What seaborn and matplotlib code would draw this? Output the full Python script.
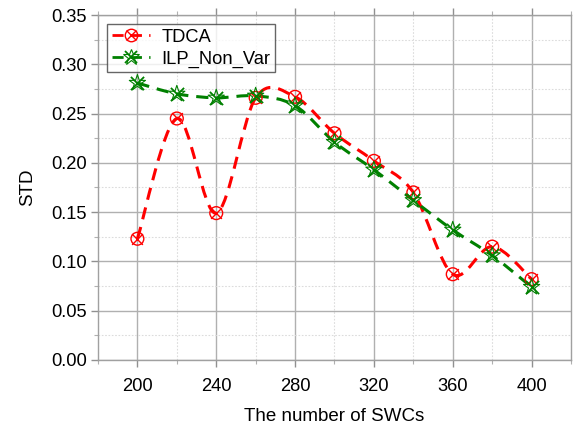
import numpy as np
import pandas as pd
import matplotlib
matplotlib.use("Agg")
import matplotlib.pyplot as plt
import seaborn as sns
from matplotlib.path import Path
from matplotlib.patches import PathPatch
from matplotlib.lines import Line2D
from matplotlib.ticker import MultipleLocator

swcs = [200, 220, 240, 260, 280, 300, 320, 340, 360, 380, 400]
tdca = [0.123, 0.245, 0.149, 0.266, 0.267, 0.230, 0.202, 0.170, 0.087, 0.115, 0.082]
ilp_non_var = [0.281, 0.270, 0.266, 0.268, 0.258, 0.221, 0.193, 0.162, 0.132, 0.106, 0.074]
series_names = ["TDCA", "ILP_Non_Var"]
series_colors = ["#ff0000", "#008000"]

sns.set_style("white")
plt.rcParams["font.family"] = ["Liberation Sans", "DejaVu Sans"]
plt.rcParams["text.color"] = "black"
plt.rcParams["axes.labelcolor"] = "black"
plt.rcParams["xtick.labelcolor"] = "black"
plt.rcParams["ytick.labelcolor"] = "black"

fig = plt.figure(figsize=(5.74, 4.25), dpi=100)
ax = fig.add_axes([0.1707, 0.153, 0.8241, 0.8117])


def smooth_patch(xs, ys, color):
    pts = np.column_stack([xs, ys]).astype(float)
    n = len(pts)
    verts = [pts[0]]
    codes = [Path.MOVETO]
    for i in range(n - 1):
        p0 = pts[i - 1] if i > 0 else pts[i]
        p1 = pts[i]
        p2 = pts[i + 1]
        p3 = pts[i + 2] if i + 2 < n else pts[i + 1]
        c1 = p1 + (p2 - p0) / 6.0
        c2 = p2 - (p3 - p1) / 6.0
        verts += [c1, c2, p2]
        codes += [Path.CURVE4] * 3
    return PathPatch(Path(verts, codes), facecolor="none", edgecolor=color,
                     lw=2.2, linestyle=(0, (4, 2.6)), transform=ax.transData, zorder=3)


df = pd.DataFrame({"x": swcs * 2, "y": tdca + ilp_non_var,
                   "s": [series_names[0]] * len(swcs) + [series_names[1]] * len(swcs)})

ax.add_patch(smooth_patch(swcs, tdca, series_colors[0]))
ax.add_patch(smooth_patch(swcs, ilp_non_var, series_colors[1]))

d1 = df[df.s == series_names[0]]
d2 = df[df.s == series_names[1]]
sns.scatterplot(data=d1, x="x", y="y", ax=ax, marker="o", s=85, facecolors="none",
                edgecolor=series_colors[0], linewidth=1.0, zorder=4, legend=False)
sns.scatterplot(data=d1, x="x", y="y", ax=ax, marker="x", s=60, color=series_colors[0],
                linewidth=1.0, zorder=4, legend=False)
sns.scatterplot(data=d2, x="x", y="y", ax=ax, marker="*", s=150, facecolors="none",
                edgecolor=series_colors[1], linewidth=0.8, zorder=4, legend=False)
sns.scatterplot(data=d2, x="x", y="y", ax=ax, marker="x", s=90, color=series_colors[1],
                linewidth=1.3, zorder=4, legend=False)

ax.set_xlim(180, 420)
ax.set_ylim(0, 0.35)
ax.xaxis.set_major_locator(MultipleLocator(40))
ax.xaxis.set_minor_locator(MultipleLocator(20))
ax.yaxis.set_major_locator(MultipleLocator(0.05))
ax.yaxis.set_minor_locator(MultipleLocator(0.025))
ax.yaxis.set_major_formatter(matplotlib.ticker.FormatStrFormatter("%.2f"))

ax.grid(which="major", color="#b0b0b0", lw=1.0, ls="-", zorder=0)
ax.grid(which="minor", color="#dcdcdc", lw=0.8, ls=(0, (1.5, 1.5)), zorder=0)
for sp in ax.spines.values():
    sp.set_color("#a0a0a0")
    sp.set_linewidth(1.0)
ax.tick_params(which="major", direction="out", length=5, color="#909090", width=1.0,
               labelsize=13.2, bottom=True, left=True, top=True, pad=3)
ax.tick_params(which="minor", direction="out", length=3, color="#b0b0b0", width=0.8,
               bottom=True, left=True, top=True)
ax.tick_params(axis="x", labeltop=False, pad=8)
ax.set_xlabel("The number of SWCs", fontsize=13.5, labelpad=9)
ax.set_ylabel("STD", fontsize=13.5, labelpad=11)

h1 = (Line2D([], [], color=series_colors[0], lw=2, ls=(0, (4, 2.6)), marker="o",
             mfc="none", mec=series_colors[0], ms=9, mew=1.0),
      Line2D([], [], ls="none", marker="x", color=series_colors[0], ms=7, mew=1.0))
h2 = (Line2D([], [], color=series_colors[1], lw=2, ls=(0, (4, 2.6)), marker="*",
             mfc="none", mec=series_colors[1], ms=12, mew=0.8),
      Line2D([], [], ls="none", marker="x", color=series_colors[1], ms=9, mew=1.3))
leg = ax.legend([h1, h2], series_names, loc="upper left", fontsize=13.2, frameon=True,
                fancybox=False, edgecolor="#404040", handlelength=2.1,
                borderaxespad=0.5, borderpad=0.25, labelspacing=0.25, handletextpad=0.6)
leg.get_frame().set_linewidth(1.0)

fig.savefig("out.png", dpi=100)
